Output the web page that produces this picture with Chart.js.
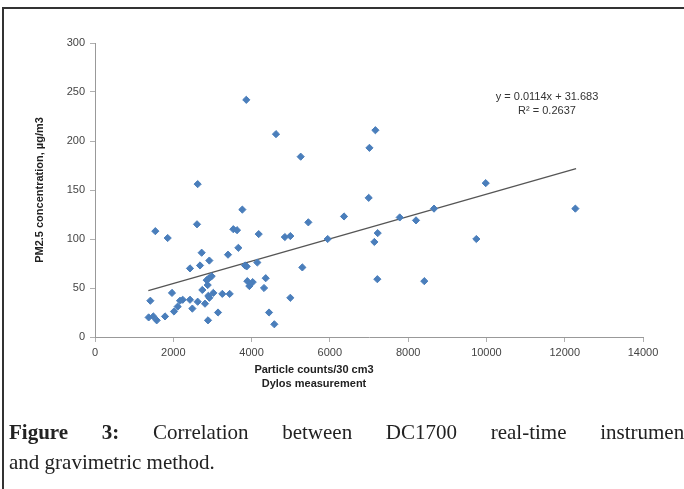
<!DOCTYPE html>
<html>
<head>
<meta charset="utf-8">
<script src="https://cdn.jsdelivr.net/npm/chart.js@4"></script>
<style>
	html, body { margin: 0; padding: 0; background: #fff; overflow: hidden; }
	body { width: 684px; height: 489px; position: relative; }
	#data { position: absolute; left: 0; top: 0; }
	.frame {
		position: absolute; left: 2px; top: 7px; width: 800px; height: 600px;
		border-left: 2px solid #333; border-top: 2px solid #333;
	}
	.caption {
		position: absolute; left: 9px; top: 417px; width: 684px;
		font-family: "Liberation Serif", serif; font-size: 21px; line-height: 30px;
		color: #222; white-space: nowrap;
	}
	.caption .l1 { display: flex; justify-content: space-between; width: 681px; }
</style>
</head>
<body>
<canvas id="data" width="684" height="400"></canvas>
<div class="frame"></div>
<div class="caption">
	<div class="l1"><b>Figure</b><b>3:</b><span>Correlation</span><span>between</span><span>DC1700</span><span>real-time</span><span>instrument</span></div>
	<div>and gravimetric method.</div>
</div>
<script>
// particle counts (Dylos) vs PM2.5 (gravimetric)
const countX = [
	3865, 4624, 2623, 5255, 7163, 7011, 9982, 3764, 2606, 1541,
	1857, 3534, 3628, 4182, 4850, 4990, 3662, 2725, 3398, 2921,
	2427, 2683, 3832, 3875, 4147, 4361, 2981, 2913, 2853, 3892,
	4029, 3943, 2879, 4318, 2742, 1967, 3253, 3441, 3023, 2895,
	2921, 1414, 2241, 2172, 2427, 2623, 2112, 2487, 2810, 2018,
	3143, 4446, 1789, 1371, 1490, 1576, 2887, 4581, 4990, 5450,
	5945, 6362, 6992, 7222, 7137, 7785, 8201, 8661, 9742, 5297,
	7213, 8413, 12272
];
const pm25 = [
	242, 207, 156, 184, 211, 193, 157, 130, 115, 108,
	101, 110, 109, 105, 102, 103, 91, 86, 84, 78,
	70, 73, 73, 72, 76, 60, 62, 60, 58, 57,
	56, 52, 53, 50, 48, 45, 44, 44, 45, 42,
	40, 37, 38, 37, 38, 36, 31, 29, 34, 26,
	25, 25, 21, 20, 21, 17, 17, 13, 40, 117,
	100, 123, 142, 106, 97, 122, 119, 131, 100, 71,
	59, 57, 131
];

const trendSlope = 0.0114;
const trendIntercept = 31.683;
const trendRange = [1363, 12290];
const equationLines = ["y = 0.0114x + 31.683", "R\u00b2 = 0.2637"];
const xTitleLines = ["Particle counts/30 cm3", "Dylos measurement"];
const yTitle = "PM2.5 concentration, \u00b5g/m3";

const font = "'Liberation Sans', Arial, sans-serif";

const textPlugin = {
	id: "texts",
	afterDraw(chart) {
		const { ctx, scales } = chart;
		ctx.save();
		ctx.fillStyle = "#222";
		ctx.textAlign = "center";
		ctx.textBaseline = "middle";

		ctx.font = "bold 11px " + font;
		ctx.fillText(xTitleLines[0], 314, 370);
		ctx.fillText(xTitleLines[1], 314, 384);

		ctx.save();
		ctx.translate(40, (scales.y.top + scales.y.bottom) / 2);
		ctx.rotate(-Math.PI / 2);
		ctx.fillText(yTitle, 0, 0);
		ctx.restore();

		ctx.font = "11px " + font;
		ctx.fillStyle = "#333";
		ctx.fillText(equationLines[0], 547, 97);
		ctx.fillText(equationLines[1], 547, 111);
		ctx.restore();
	}
};

const axisStyle = {
	grid: { display: true, drawOnChartArea: false, drawTicks: true, tickLength: 5, color: "#b0b0b0" },
	border: { color: "#999", width: 1 },
	ticks: { color: "#444", font: { family: font, size: 11 }, padding: 4, callback: (v) => String(v) }
};

new Chart(document.getElementById("data"), {
	type: "scatter",
	data: {
		datasets: [
			{
				data: countX.map((x, i) => ({ x: x, y: pm25[i] })),
				pointStyle: "rectRot",
				pointRadius: 3.6,
				backgroundColor: "#4a7ebb",
				borderColor: "#4a7ebb",
				borderWidth: 1
			},
			{
				type: "line",
				data: trendRange.map((x) => ({ x: x, y: trendSlope * x + trendIntercept })),
				borderColor: "#555",
				borderWidth: 1.3,
				pointRadius: 0,
				fill: false
			}
		]
	},
	options: {
		responsive: false,
		animation: false,
		devicePixelRatio: 1,
		layout: { padding: { left: 0, top: 43, right: 41, bottom: 0 } },
		scales: {
			x: {
				...axisStyle,
				type: "linear",
				min: 0,
				max: 14000,
				ticks: { ...axisStyle.ticks, stepSize: 2000, maxRotation: 0 },
				afterFit: (scale) => { scale.height = 63; }
			},
			y: {
				...axisStyle,
				min: 0,
				max: 300,
				ticks: { ...axisStyle.ticks, stepSize: 50, padding: 5 },
				afterFit: (scale) => { scale.width = 95; }
			}
		},
		plugins: {
			legend: { display: false },
			tooltip: { enabled: false }
		}
	},
	plugins: [textPlugin]
});
</script>
</body>
</html>
